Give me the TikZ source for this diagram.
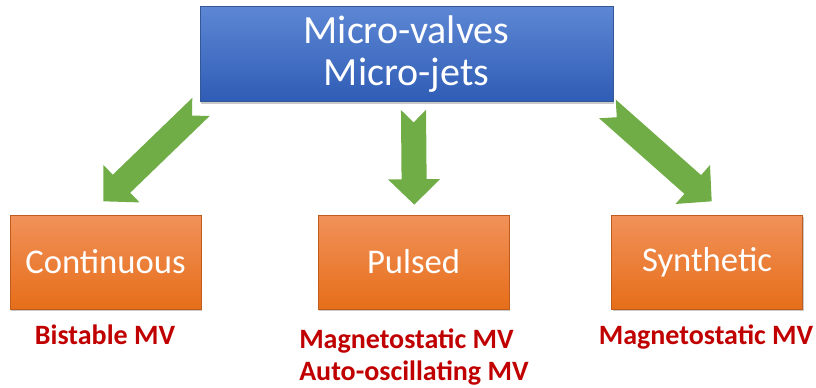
\documentclass[tikz,border=0pt]{standalone}
\usepackage{fontspec}
\setmainfont{Carlito}
\usetikzlibrary{calc, shadows}

\definecolor{mvbluetop}{RGB}{93,135,212}
\definecolor{mvbluebot}{RGB}{47,92,181}
\definecolor{mvblueline}{RGB}{52,88,150}
\definecolor{kindtop}{RGB}{241,145,90}
\definecolor{kindbot}{RGB}{230,110,25}
\definecolor{kindline}{RGB}{190,92,30}
\definecolor{arrgreen}{RGB}{112,173,71}
\definecolor{mvred}{RGB}{192,0,0}

% fat arrow with a notched tail, from #1 (tail) to #2 (tip)
\newcommand{\fatarrow}[2]{%
  \coordinate (hb) at ($(#2)!19pt!(#1)$);
  \fill[arrgreen] ($(#1)!9.4pt!90:(#2)$) -- ($(#1)!9.4pt!(#2)$) -- ($(#1)!9.4pt!-90:(#2)$)
    -- ($(hb)!9.4pt!-90:(#2)$) -- ($(hb)!19.5pt!-90:(#2)$) -- (#2)
    -- ($(hb)!19.5pt!90:(#2)$) -- ($(hb)!9.4pt!90:(#2)$) -- cycle;
}

\begin{document}
\begin{tikzpicture}[x=0.75pt, y=-0.75pt,
    softshadow/.style={drop shadow={shadow xshift=1pt, shadow yshift=-1.5pt, opacity=.3, fill=black!70}},
    mvbox/.style={draw=mvblueline, line width=0.6pt, top color=mvbluetop, bottom color=mvbluebot,
      minimum width=309.75pt, minimum height=71.25pt, text=white, align=center,
      font=\fontsize{30}{31}\selectfont, softshadow},
    kindbox/.style={draw=kindline, line width=0.6pt, top color=kindtop, bottom color=kindbot,
      minimum width=143.25pt, minimum height=70.5pt, text=white, font=\fontsize{26}{30}\selectfont, softshadow},
    example/.style={text=mvred, inner sep=0pt, font=\bfseries\fontsize{21}{24}\selectfont}]
  \useasboundingbox (0,0) rectangle (816,387);

  \node[mvbox] (mv) at (406.5,54) {Micro-valves\\Micro-jets};

  \node[kindbox] (cont) at (105.5,262) {Continuous};
  \node[kindbox] (pulse) at (413.6,262) {Pulsed};
  \node[kindbox] (synth) at (707,262) {Synthetic};

  \node[example, anchor=base] (contex) at (105,344) {Bistable MV};
  \node[example, anchor=north west, align=left] (pulseex) at (299,329) {Magnetostatic MV\\Auto-oscillating MV};
  \node[example, anchor=base] (synthex) at (706,344) {Magnetostatic MV};

  % arrows
  \coordinate (t1) at ($(mv.south west)+(1.4,5)$);
  \coordinate (h1) at ($(cont.north)+(-2.2,-13.3)$);
  \coordinate (t2) at ($(mv.south)+(7,8)$);
  \coordinate (h2) at ($(pulse.north)+(0.7,-10)$);
  \coordinate (t3) at ($(mv.south east)+(-6,7)$);
  \coordinate (h3) at ($(synth.north)+(4.7,-13.3)$);
  \fatarrow{t1}{h1}
  \fatarrow{t2}{h2}
  \fatarrow{t3}{h3}
\end{tikzpicture}
\end{document}
